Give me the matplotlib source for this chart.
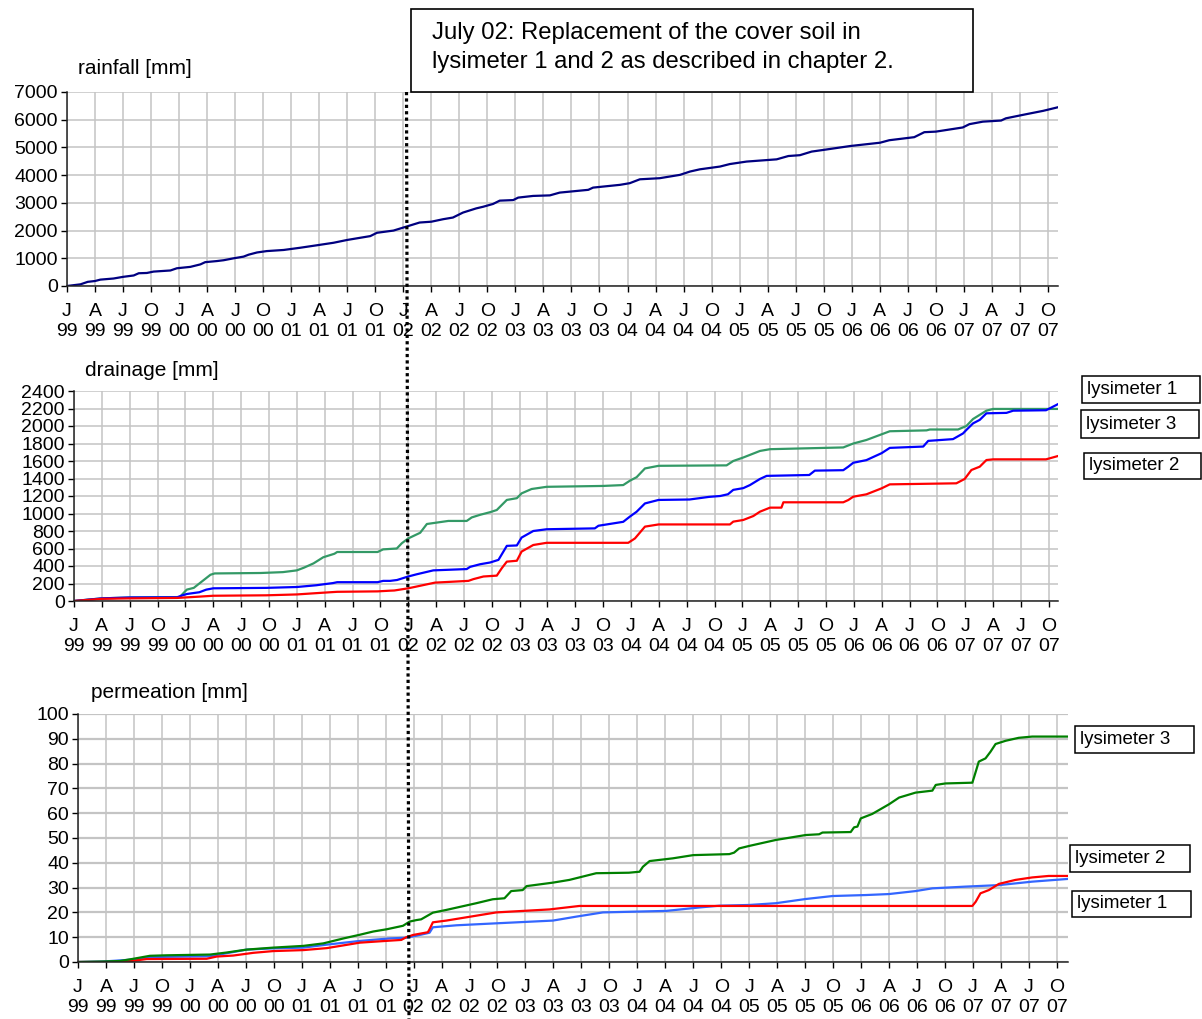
import matplotlib
matplotlib.use('Agg')
import matplotlib.pyplot as plt
from matplotlib.patches import Rectangle
from matplotlib.lines import Line2D

plt.rcParams['font.family'] = ['Liberation Sans', 'DejaVu Sans']

W, H = 1202, 1019

# x values are in quarters counted from the first tick (J 99)
rain_q = [0, 0.48, 0.74, 1.0, 1.19, 1.66, 2.0, 2.38, 2.56, 2.85, 3.09, 3.69, 3.92, 4.4, 4.76, 4.93,
          5.35, 5.59, 5.95, 6.3, 6.48, 6.78, 7.13, 7.73, 8.32, 8.92, 9.51, 9.99, 10.58, 10.82, 11.06,
          11.65, 12.1, 12.58, 13.0, 13.42, 13.77, 14.13, 14.6, 14.85, 15.2, 15.44, 15.92, 16.1,
          16.63, 17.23, 17.58, 18.6, 18.77, 19.73, 20.08, 20.44, 21.15, 21.87, 22.23, 22.58,
          23.3, 23.65, 24.25, 25.32, 25.74, 26.15, 26.57, 26.99, 27.94, 29.01, 29.34, 30.23,
          30.59, 31.0, 31.96, 32.2, 32.68, 33.33, 33.5, 34.23, 34.83, 35.36]
rain_mm = [0, 60, 150, 180, 230, 270, 330, 380, 460, 470, 520, 560, 640, 690, 780, 860,
           900, 930, 1000, 1060, 1130, 1210, 1260, 1300, 1380, 1470, 1560, 1660, 1760, 1800, 1920,
           2000, 2140, 2290, 2320, 2410, 2470, 2650, 2800, 2860, 2960, 3080, 3100, 3190,
           3250, 3270, 3370, 3470, 3550, 3650, 3710, 3850, 3890, 4010, 4130, 4210,
           4310, 4400, 4490, 4570, 4690, 4720, 4850, 4910, 5050, 5170, 5260, 5370,
           5550, 5570, 5720, 5840, 5930, 5970, 6050, 6200, 6320, 6450]

# drainage
dr1_q = [0, 1, 2, 3.7, 3.85, 4.05, 4.5, 4.75, 5.0, 6.9, 8.0, 8.7, 9.3, 9.45, 10.9, 11.1, 11.35,
         11.6, 12.0, 12.3, 12.9, 14.1, 14.22, 14.58, 14.94, 15.24, 15.54, 15.9, 16.07, 16.49,
         16.97, 18.7, 18.83, 19.72, 19.96, 20.2, 20.5, 20.99, 22.1, 22.8, 23.2, 23.48, 23.67,
         24.03, 24.27, 24.63, 24.87, 26.4, 26.6, 27.62, 27.8, 27.98, 28.45, 29.0, 29.29, 30.49,
         30.67, 31.56, 31.92, 32.04, 32.28, 32.52, 32.76, 33.48, 33.72, 34.9, 35.33]
dr1_mm = [0, 30, 40, 42, 60, 80, 100, 130, 145, 150, 160, 180, 205, 215, 215, 230, 230,
          240, 280, 305, 350, 365, 390, 420, 440, 470, 630, 635, 725, 800,
          820, 830, 860, 905, 965, 1020, 1115, 1155, 1160, 1190, 1200, 1220, 1270,
          1290, 1325, 1395, 1430, 1440, 1490, 1495, 1535, 1580, 1610, 1690, 1750, 1765,
          1830, 1850, 1915, 1955, 2030, 2070, 2145, 2150, 2175, 2180, 2250]

dr2_q = [0, 1, 2, 3.7, 4.5, 5.0, 6.9, 8.0, 8.95, 9.45, 10.9, 11.35, 11.5, 12.0, 12.96, 14.16,
         14.34, 14.7, 15.18, 15.36, 15.54, 15.9, 16.07, 16.49, 16.97, 19.9, 20.14, 20.5, 20.99,
         23.55, 23.67, 24.03, 24.39, 24.63, 24.99, 25.4, 25.47, 27.62, 27.8, 27.98, 28.45, 29.0,
         29.29, 31.68, 31.98, 32.22, 32.52, 32.76, 33.0, 34.9, 35.33]
dr2_mm = [0, 25, 30, 35, 50, 60, 65, 75, 95, 105, 110, 118, 120, 145, 210, 230,
          250, 280, 290, 375, 450, 460, 565, 640, 665, 665, 715, 850, 875,
          875, 907, 926, 971, 1021, 1067, 1067, 1128, 1128, 1154, 1192, 1219, 1288,
          1333, 1345, 1395, 1497, 1535, 1611, 1619, 1619, 1657]

dr3_q = [0, 1, 2, 3.8, 3.9, 4.05, 4.3, 4.5, 4.7, 4.9, 5.05, 6.7, 7.5, 8.0, 8.25, 8.6, 8.95,
         9.35, 9.45, 10.9, 11.1, 11.59, 11.77, 12.0, 12.43, 12.67, 13, 13.44, 14.1, 14.28, 14.58,
         14.94, 15.18, 15.54, 15.9, 16.07, 16.43, 16.97, 19.0, 19.72, 19.96, 20.2, 20.5, 20.99,
         23.43, 23.67, 24.03, 24.63, 24.99, 27.62, 27.98, 28.45, 29.29, 30.61, 30.73, 31.74,
         32.04, 32.28, 32.76, 33.0, 35.33]
dr3_mm = [0, 30, 40, 45, 80, 130, 150, 200, 250, 300, 315, 320, 330, 350, 380, 430, 500,
          540, 560, 560, 590, 600, 660, 715, 780, 880, 895, 915, 915, 955, 985,
          1015, 1040, 1155, 1175, 1230, 1280, 1305, 1315, 1325, 1375, 1415, 1515, 1545,
          1550, 1600, 1640, 1715, 1735, 1755, 1800, 1840, 1940, 1950, 1960, 1960,
          2000, 2080, 2175, 2195, 2195]

# permeation
pm1_q = [0, 0.9, 1.98, 2.57, 4.72, 5.3, 6.03, 6.98, 8.06, 8.9, 10.08, 11.14, 11.74, 12.1,
         12.57, 12.69, 13.53, 14.96, 16.98, 17.82, 18.77, 21.03, 22.23, 22.93, 24.0, 24.95,
         26.02, 26.98, 28.17, 29.0, 29.95, 30.55, 31.74, 32.93, 34.12, 35.4]
pm1_mm = [0, 0.2, 1.0, 2.0, 2.3, 3.5, 5.0, 5.5, 5.8, 7.0, 8.5, 9.5, 9.8, 10.6,
          11.8, 14.0, 14.8, 15.6, 16.7, 18.3, 20.0, 20.6, 22.0, 22.7, 23.0, 23.7,
          25.4, 26.6, 27.0, 27.4, 28.6, 29.7, 30.4, 31.0, 32.4, 33.5]

pm2_q = [0, 1.5, 1.98, 2.46, 4.6, 4.96, 5.55, 6.27, 6.98, 8.06, 8.9, 10.08, 11.14, 11.56,
         11.74, 11.98, 12.51, 12.57, 12.69, 13.17, 14.96, 16.86, 17.93, 31.98, 32.1, 32.27,
         32.57, 32.93, 33.52, 34.12, 34.71, 35.4]
pm2_mm = [0, 0, 0.5, 1.2, 1.3, 2.2, 2.6, 3.7, 4.4, 4.8, 5.6, 7.8, 8.6, 8.9,
          10.0, 10.9, 12.0, 13.2, 16.0, 16.7, 20.0, 21.2, 22.6, 22.6, 24.3, 27.7,
          29.0, 31.5, 33.1, 34.1, 34.7, 34.7]

pm3_q = [0, 0.9, 1.5, 1.98, 2.57, 3.17, 4.72, 5.3, 6.03, 6.98, 8.06, 8.77, 9.49, 10.08, 10.56,
         11.04, 11.62, 11.86, 12.1, 12.27, 12.69, 13.17, 14.24, 14.83, 15.25, 15.49, 15.9, 16.04,
         16.98, 17.57, 18.53, 19.7, 20.08, 20.2, 20.44, 21.27, 22.0, 23.29, 23.46, 23.64, 24.0,
         24.95, 26.02, 26.5, 26.62, 27.63, 27.75, 27.87, 27.99, 28.4, 29.0, 29.36, 29.95, 30.55,
         30.67, 31.02, 31.98, 32.1, 32.21, 32.45, 32.63, 32.81, 33.17, 33.64, 34.12, 35.4]
pm3_mm = [0, 0.2, 0.4, 1.3, 2.5, 2.7, 3.0, 3.8, 5.0, 5.8, 6.5, 7.5, 9.5, 11.0, 12.3,
          13.2, 14.6, 16.3, 16.9, 17.2, 19.9, 21.0, 23.7, 25.3, 25.7, 28.6, 29.0, 30.6,
          32.0, 33.1, 35.8, 36.0, 36.4, 38.4, 40.7, 41.8, 43.1, 43.5, 44.1, 45.8, 46.8,
          49.2, 51.2, 51.5, 52.2, 52.4, 54.3, 54.6, 57.9, 59.7, 63.6, 66.3, 68.3, 69.1,
          71.4, 72.0, 72.3, 76.7, 80.8, 82.1, 84.8, 87.9, 89.2, 90.4, 90.9, 90.9]

months = ['J', 'A', 'J', 'O']
years = ['99', '00', '01', '02', '03', '04', '05', '06', '07']
tick_labels = [m + '\n' + y for y in years for m in months]


def px_box(x0, y0, x1, y1):
    # pixel box (top-left origin) -> figure fraction [left, bottom, width, height]
    return [x0 / W, 1 - y1 / H, (x1 - x0) / W, (y1 - y0) / H]


fig = plt.figure(figsize=(W / 100, H / 100), dpi=100)


def make_panel(box, xmax, ymax, ystep, title, title_xy):
    ax = fig.add_axes(px_box(*box))
    ax.set_xlim(0, xmax)
    ax.set_ylim(0, ymax)
    ax.set_xticks(range(len(tick_labels)))
    ax.set_xticklabels(tick_labels, linespacing=1.22)
    ax.set_yticks(range(0, ymax + 1, ystep))
    ax.tick_params(axis='x', length=4, width=1, pad=8.5, labelsize=14)
    ax.tick_params(axis='y', length=4, width=1, pad=2.5, labelsize=14)
    ax.grid(True, color='#c4c4c4', lw=1.1)
    ax.set_axisbelow(True)
    for s in ['top', 'right']:
        ax.spines[s].set_visible(False)
    for s in ['left', 'bottom']:
        ax.spines[s].set_color('#222222')
        ax.spines[s].set_linewidth(1.1)
    fig.text(title_xy[0] / W, 1 - title_xy[1] / H, title, fontsize=15, va='center', ha='left')
    return ax


# rainfall
ax1 = make_panel((67, 92, 1058, 286), 35.36, 7000, 1000, 'rainfall [mm]', (78, 69))
ax1.plot(rain_q, rain_mm, color='#000080', lw=1.6)

# drainage
ax2 = make_panel((74, 391, 1058, 601), 35.33, 2400, 200, 'drainage [mm]', (85, 370))
ax2.plot(dr3_q, dr3_mm, color='#339966', lw=1.6)
ax2.plot(dr1_q, dr1_mm, color='#0000ff', lw=1.6)
ax2.plot(dr2_q, dr2_mm, color='#ff0000', lw=1.6)

# permeation
ax3 = make_panel((78, 714, 1068, 962), 35.4, 100, 10, 'permeation [mm]', (91, 693))
ax3.grid(True, axis='y', color='#c4c4c4', lw=1.6)
ax3.plot(pm1_q, pm1_mm, color='#3366ff', lw=1.6)
ax3.plot(pm2_q, pm2_mm, color='#ff0000', lw=1.6)
ax3.plot(pm3_q, pm3_mm, color='#008000', lw=1.6)

# label boxes on the right
labels = [('lysimeter 1', (1082, 376, 1200, 403)),
          ('lysimeter 3', (1081, 410, 1199, 438)),
          ('lysimeter 2', (1084, 453, 1201, 479)),
          ('lysimeter 3', (1075, 726, 1194, 753)),
          ('lysimeter 2', (1070, 845, 1190, 872)),
          ('lysimeter 1', (1072, 891, 1191, 917))]
for txt, (x0, y0, x1, y1) in labels:
    l, b, w, h = px_box(x0, y0, x1, y1)
    fig.add_artist(Rectangle((l, b), w, h, transform=fig.transFigure,
                             facecolor='white', edgecolor='black', lw=1.1))
    fig.text((x0 + 5) / W, b + h / 2, txt, fontsize=13.5, va='center', ha='left')

# dotted line marking July 02
fig.add_artist(Line2D([406.5 / W, 409 / W], [1 - 92 / H, 0], transform=fig.transFigure,
                      color='black', lw=2.3, linestyle=(0, (1, 1))))

# annotation box
l, b, w, h = px_box(411, 9, 973, 92)
fig.add_artist(Rectangle((l, b), w, h, transform=fig.transFigure,
                         facecolor='white', edgecolor='black', lw=1.2))
fig.text(432 / W, 1 - 47.5 / H,
         'July 02: Replacement of the cover soil in\nlysimeter 1 and 2 as described in chapter 2.',
         fontsize=17.2, va='center', ha='left', linespacing=1.38)

fig.savefig('out.png', dpi=100)
